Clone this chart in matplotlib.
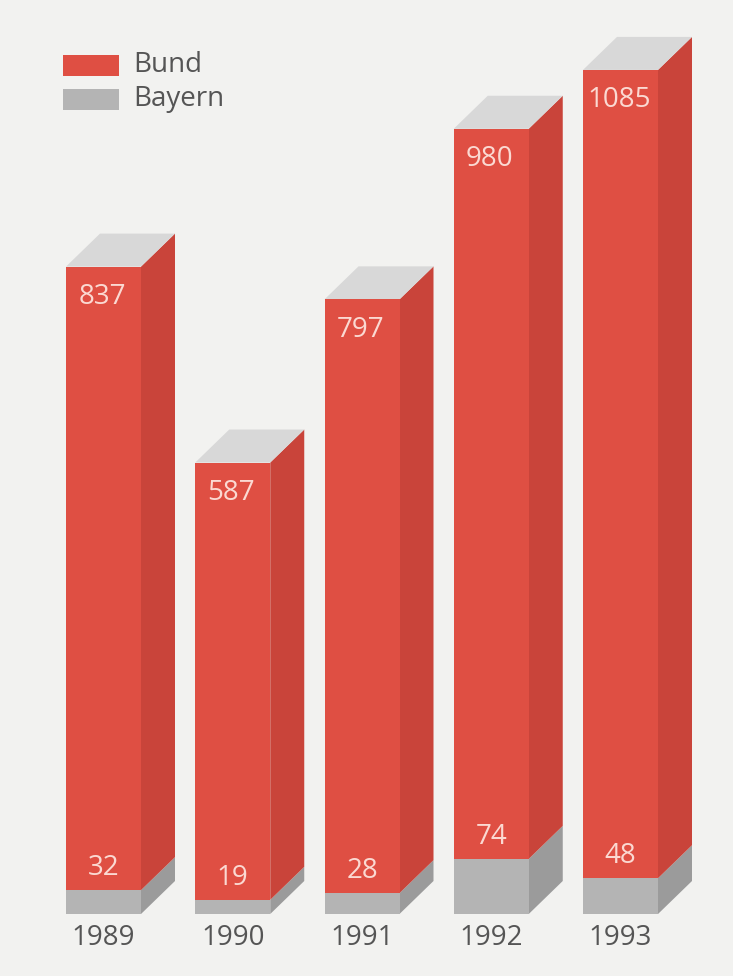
"""Stacked pseudo-3D bars: Bund vs Bayern, 1989-1993."""
import matplotlib
matplotlib.use("Agg")
import matplotlib.pyplot as plt
from matplotlib.patches import Polygon, Rectangle

years = ["1989", "1990", "1991", "1992", "1993"]
bund = [837, 587, 797, 980, 1085]
bayern = [32, 19, 28, 74, 48]

BG = "#f2f2f0"
RED_FRONT = "#df4f43"
RED_SIDE = "#c9443a"
GRAY_FRONT = "#b4b4b4"
GRAY_SIDE = "#9b9b9b"
TOP = "#d8d8d8"
TEXT = "#555555"
LABEL = "#fbd9d2"

plt.rcParams["font.family"] = ["Open Sans", "DejaVu Sans"]

W, H = 733, 976
fig = plt.figure(figsize=(W / 100, H / 100), dpi=100, facecolor=BG)
ax = fig.add_axes([0, 0, 1, 1])
ax.set_facecolor(BG)

# pixel geometry -> data units
px_x = 129.25            # px per category step
px_y = 0.745             # px per value unit
x0_px, base_px = 103.5, 914
ax.set_xlim(-x0_px / px_x, (W - x0_px) / px_x)
ax.set_ylim(-(H - base_px) / px_y, base_px / px_y)
ax.axis("off")

width = 75 / px_x
dx = 34 / px_x
dy = 33 / px_y

xs = list(range(len(years)))
ax.bar(xs, bayern, width=width, color=GRAY_FRONT, linewidth=0, zorder=3)
ax.bar(xs, bund, width=width, bottom=bayern, color=RED_FRONT, linewidth=0, zorder=3)

for i, (b, g) in enumerate(zip(bund, bayern)):
    l, r = i - width / 2, i + width / 2
    tot = b + g
    # side faces
    ax.add_patch(Polygon([(r, 0), (r + dx, dy), (r + dx, g + dy), (r, g)],
                         closed=True, color=GRAY_SIDE, lw=0, zorder=2))
    ax.add_patch(Polygon([(r, g), (r + dx, g + dy), (r + dx, tot + dy), (r, tot)],
                         closed=True, color=RED_SIDE, lw=0, zorder=2))
    # top face
    ax.add_patch(Polygon([(l, tot), (r, tot), (r + dx, tot + dy), (l + dx, tot + dy)],
                         closed=True, color=TOP, lw=0, zorder=2))
    ax.annotate(str(b), (i, tot), xytext=(-1, -22), textcoords="offset points",
                ha="center", va="center", fontsize=20, color=LABEL, zorder=4)
    ax.annotate(str(g), (i, g), xytext=(0, 16), textcoords="offset points",
                ha="center", va="center", fontsize=20, color=LABEL, zorder=4)
    ax.annotate(years[i], (i, 0), xytext=(0, -17), textcoords="offset points",
                ha="center", va="center", fontsize=20, color=TEXT)

# legend drawn by hand in figure pixels
for k, (lab, col) in enumerate([("Bund", RED_FRONT), ("Bayern", GRAY_FRONT)]):
    yc = H - (65 + 34 * k)
    fig.patches.append(Rectangle((63 / W, (yc - 10.5) / H), 56 / W, 21 / H,
                                 transform=fig.transFigure, color=col, lw=0))
    fig.text(133 / W, yc / H, lab, ha="left", va="center", fontsize=20, color=TEXT)

fig.savefig("out.png", dpi=100, facecolor=BG)
